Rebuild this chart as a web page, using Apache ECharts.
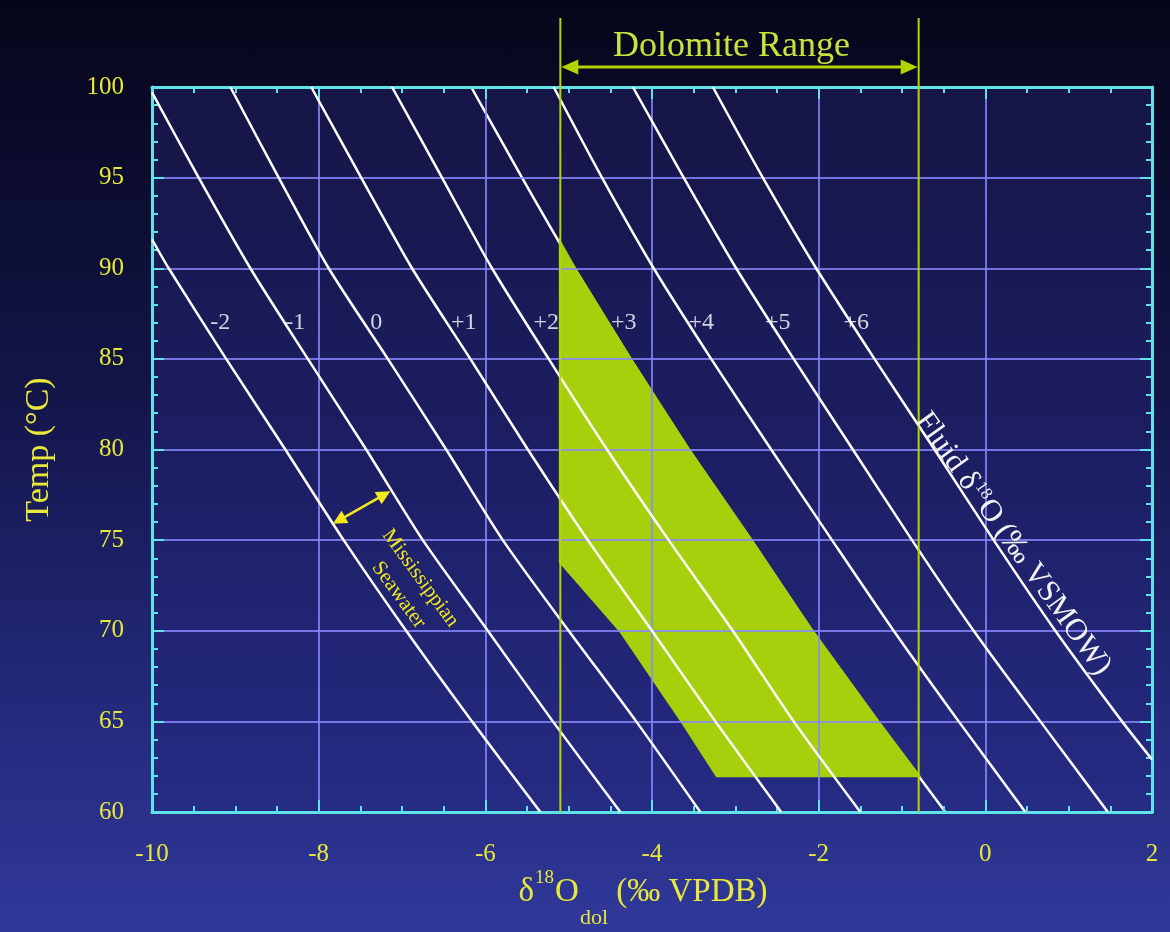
<!DOCTYPE html>
<html>
<head>
<meta charset="utf-8">
<script src="https://cdn.jsdelivr.net/npm/echarts@6/dist/echarts.min.js"></script>
<style>
html,body{margin:0;padding:0;}
body{background:linear-gradient(to bottom,#06061a 0%,#121446 40%,#23297a 75%,#30389a 100%);}
#c{width:1170px;height:932px;}
</style>
</head>
<body>
<div id="c"></div>
<script>
// ---------------- data ----------------
const xTicks = [-10, -8, -6, -4, -2, 0, 2];
const yTicks = [60, 65, 70, 75, 80, 85, 90, 95, 100];
const fluidLabels = ['-2', '-1', '0', '+1', '+2', '+3', '+4', '+5', '+6'];

// fluid δ18O isolines: [δ18O dol (‰ VPDB), Temp (°C)]
const lineM2 = [[-10.00, 91.6], [-9.80, 90], [-9.11, 85], [-8.40, 80], [-7.70, 75], [-6.95, 70], [-6.16, 65], [-5.34, 60]];
const lineM1 = [[-10.00, 99.7], [-9.44, 95], [-8.82, 90], [-8.13, 85], [-7.43, 80], [-6.75, 75], [-5.97, 70], [-5.19, 65], [-4.38, 60]];
const line0  = [[-9.06, 100], [-8.48, 95], [-7.88, 90], [-7.17, 85], [-6.47, 80], [-5.79, 75], [-5.00, 70], [-4.19, 65], [-3.42, 60]];
const lineP1 = [[-8.09, 100], [-7.49, 95], [-6.88, 90], [-6.18, 85], [-5.49, 80], [-4.77, 75], [-4.00, 70], [-3.24, 65], [-2.45, 60]];
const lineP2 = [[-7.12, 100], [-6.52, 95], [-5.92, 90], [-5.24, 85], [-4.54, 80], [-3.80, 75], [-3.03, 70], [-2.30, 65], [-1.50, 60]];
const lineP3 = [[-6.17, 100], [-5.56, 95], [-4.93, 90], [-4.26, 85], [-3.56, 80], [-2.81, 75], [-2.08, 70], [-1.29, 65], [-0.48, 60]];
const lineP4 = [[-5.18, 100], [-4.60, 95], [-3.98, 90], [-3.29, 85], [-2.57, 80], [-1.84, 75], [-1.10, 70], [-0.32, 65], [0.48, 60]];
const lineP5 = [[-4.23, 100], [-3.62, 95], [-2.99, 90], [-2.30, 85], [-1.59, 80], [-0.88, 75], [-0.14, 70], [0.66, 65], [1.47, 60]];
const lineP6 = [[-3.27, 100], [-2.67, 95], [-2.03, 90], [-1.33, 85], [-0.61, 80], [0.10, 75], [0.84, 70], [1.64, 65], [2.00, 62.9]];

// where each isoline's number sits
const labelAnchors = [[-9.18, 87.0], [-8.28, 87.0], [-7.31, 87.0], [-6.26, 87.0], [-5.27, 87.0], [-4.34, 87.0], [-3.41, 87.0], [-2.49, 87.0], [-1.55, 87.0]];

// green dolomite field polygon
const greenZone = [[-5.10, 91.4], [-4.93, 90], [-4.26, 85], [-3.56, 80], [-2.81, 75], [-2.08, 70], [-1.29, 65], [-0.80, 62],
                   [-3.22, 62], [-3.64, 65], [-4.38, 70], [-5.10, 73.8]];

// dolomite range (‰ VPDB)
const dolomiteRange = [-5.1, -0.8];

// Mississippian seawater arrow and text anchors
const seawaterArrow = [[-7.83, 75.9], [-7.14, 77.7]];
const missText = [-6.78, 72.9];
const seaText = [-7.04, 71.97];
const fluidText = [0.33, 74.8];

// ---------------- styles ----------------
const serif = '"Liberation Serif","DejaVu Serif",serif';
const cyan = '#5fe3e8';
const gridCol = 'rgba(135,135,255,0.82)';
const yellow = '#e8e83a';
const lineGreen = '#b4d300';
const fillGreen = '#a6d00c';

const fluidLines = [lineM2, lineM1, line0, lineP1, lineP2, lineP3, lineP4, lineP5, lineP6];

const chart = echarts.init(document.getElementById('c'), null, {renderer: 'canvas'});

function axisCommon(extra) {
  return Object.assign({
    type: 'value',
    z: 3,
    axisLine: {show: true, onZero: false, lineStyle: {color: cyan, width: 3}},
    axisTick: {show: true, inside: true, length: 12, lineStyle: {color: cyan, width: 2}},
    minorTick: {show: true, length: 6, lineStyle: {color: cyan, width: 2}},
    splitLine: {show: false},
    axisLabel: {show: false}
  }, extra);
}

const option = {
  backgroundColor: 'transparent',
  animation: false,
  grid: {
    left: 152, right: 18, top: 87, bottom: 120,
    containLabel: false, outerBoundsMode: 'none',
    show: true, borderWidth: 0,
    backgroundColor: new echarts.graphic.LinearGradient(0, 0, 0, 1, [
      {offset: 0, color: '#151546'}, {offset: 0.5, color: '#1c1e62'}, {offset: 1, color: '#262b84'}
    ])
  },
  xAxis: [
    axisCommon({
      min: xTicks[0], max: xTicks[xTicks.length - 1], interval: 2, position: 'bottom',
      minorTick: {show: true, splitNumber: 4, length: 6, lineStyle: {color: cyan, width: 2}},
      splitLine: {show: true, lineStyle: {color: gridCol, width: 2}},
      axisLabel: {show: true, color: yellow, fontFamily: serif, fontSize: 25, margin: 30},
      name: '{m|δ}{sup|18}{m|O}{sub|dol}{m| (‰ VPDB)}',
      nameLocation: 'middle', nameGap: 63, nameMoveOverlap: false,
      nameTextStyle: {
        color: yellow, fontFamily: serif, fontSize: 33, padding: [0, 18, 0, 0],
        rich: {
          m: {color: yellow, fontFamily: serif, fontSize: 33, lineHeight: 34},
          sup: {color: yellow, fontFamily: serif, fontSize: 19, lineHeight: 19, padding: [0, 1, 28, 1]},
          sub: {color: yellow, fontFamily: serif, fontSize: 22, lineHeight: 22, padding: [52, 0, 0, 1]}
        }
      }
    }),
    axisCommon({
      min: xTicks[0], max: xTicks[xTicks.length - 1], interval: 2, position: 'top',
      minorTick: {show: true, splitNumber: 4, length: 6, lineStyle: {color: cyan, width: 2}}
    })
  ],
  yAxis: [
    axisCommon({
      min: yTicks[0], max: yTicks[yTicks.length - 1], interval: 5, position: 'left',
      minorTick: {show: true, splitNumber: 5, length: 6, lineStyle: {color: cyan, width: 2}},
      splitLine: {show: true, lineStyle: {color: gridCol, width: 2}},
      axisLabel: {show: true, color: yellow, fontFamily: serif, fontSize: 25, margin: 28},
      name: 'Temp (°C)', nameLocation: 'middle', nameGap: 96, nameMoveOverlap: false,
      nameTextStyle: {color: yellow, fontFamily: serif, fontSize: 34}
    }),
    axisCommon({
      min: yTicks[0], max: yTicks[yTicks.length - 1], interval: 5, position: 'right',
      minorTick: {show: true, splitNumber: 5, length: 6, lineStyle: {color: cyan, width: 2}}
    })
  ],
  series: [
    {
      type: 'custom', name: 'Dolomite field', z: 2, silent: true,
      xAxisIndex: 0, yAxisIndex: 0,
      data: greenZone,
      renderItem: function (params, api) {
        if (params.dataIndex !== 0) return null;
        return {
          type: 'polygon',
          shape: {points: greenZone.map(function (p) { return api.coord(p); })},
          style: {fill: fillGreen, stroke: fillGreen, lineWidth: 3}
        };
      }
    }
  ].concat(fluidLines.map(function (d, i) {
    return {
      type: 'line', name: fluidLabels[i], data: d,
      xAxisIndex: 0, yAxisIndex: 0,
      symbol: 'none', showSymbol: false, smooth: 0.25, silent: true,
      z: fluidLabels[i] === '+3' ? 1 : 4,
      lineStyle: {color: '#ffffff', width: 2.5}
    };
  })).concat([{
    type: 'scatter', name: 'labels', data: labelAnchors, symbolSize: 0, silent: true, z: 5,
    xAxisIndex: 0, yAxisIndex: 0,
    label: {
      show: true, position: 'inside', color: '#ffffff', fontFamily: serif, fontSize: 24,
      formatter: function (p) { return fluidLabels[p.dataIndex]; }
    }
  }])
};
chart.setOption(option);

// ---------------- annotations ----------------
const P = function (p) { return chart.convertToPixel({gridIndex: 0}, p); };
const g = [];
const topPx = P([0, 100])[1];
const botPx = P([0, 60])[1];
const xL = P([dolomiteRange[0], 60])[0];
const xR = P([dolomiteRange[1], 60])[0];
const lineTop = topPx - 69;
const arrowY = topPx - 20;

function head(tip, ux, uy, len, half) {
  const bx = tip[0] - ux * len, by = tip[1] - uy * len;
  return [[tip[0], tip[1]], [bx - uy * half, by + ux * half], [bx + uy * half, by - ux * half]];
}

[xL, xR].forEach(function (x) {
  g.push({type: 'line', z: 100, silent: true, shape: {x1: x, y1: lineTop, x2: x, y2: botPx}, style: {stroke: lineGreen, lineWidth: 2}});
});
g.push({type: 'line', z: 100, silent: true, shape: {x1: xL + 12, y1: arrowY, x2: xR - 12, y2: arrowY}, style: {stroke: lineGreen, lineWidth: 3}});
g.push({type: 'polygon', z: 100, silent: true, shape: {points: head([xL + 1, arrowY], -1, 0, 17, 7.5)}, style: {fill: lineGreen}});
g.push({type: 'polygon', z: 100, silent: true, shape: {points: head([xR - 1, arrowY], 1, 0, 17, 7.5)}, style: {fill: lineGreen}});
g.push({type: 'text', z: 100, silent: true, x: (xL + xR) / 2 - 8, y: topPx - 40,
  style: {text: 'Dolomite Range', fill: '#c8e23c', fontFamily: serif, fontSize: 36, align: 'center', verticalAlign: 'middle'}});

// seawater double arrow
const a = P(seawaterArrow[0]), b = P(seawaterArrow[1]);
const dx = b[0] - a[0], dy = b[1] - a[1], dl = Math.sqrt(dx * dx + dy * dy);
const ux = dx / dl, uy = dy / dl;
const sYel = '#f2e81e';
g.push({type: 'line', z: 100, silent: true, shape: {x1: a[0] + ux * 8, y1: a[1] + uy * 8, x2: b[0] - ux * 8, y2: b[1] - uy * 8}, style: {stroke: sYel, lineWidth: 2.5}});
g.push({type: 'polygon', z: 100, silent: true, shape: {points: head(b, ux, uy, 14, 7)}, style: {fill: sYel}});
g.push({type: 'polygon', z: 100, silent: true, shape: {points: head(a, -ux, -uy, 14, 7)}, style: {fill: sYel}});

const m = P(missText), s = P(seaText), f = P(fluidText);
g.push({type: 'text', z: 100, silent: true, x: m[0], y: m[1], rotation: -0.94,
  style: {text: 'Mississippian', fill: sYel, fontFamily: serif, fontSize: 21, align: 'center', verticalAlign: 'middle'}});
g.push({type: 'text', z: 100, silent: true, x: s[0], y: s[1], rotation: -0.94,
  style: {text: 'Seawater', fill: sYel, fontFamily: serif, fontSize: 21, align: 'center', verticalAlign: 'middle'}});
g.push({type: 'text', z: 100, silent: true, x: f[0], y: f[1], rotation: -0.95,
  style: {
    text: '{a|Fluid δ}{s|18}{a|O (‰ VSMOW)}', fill: '#f2f2f2', fontFamily: serif, fontSize: 31,
    align: 'center', verticalAlign: 'middle',
    rich: {
      a: {fill: '#f2f2f2', fontFamily: serif, fontSize: 31, lineHeight: 32},
      s: {fill: '#f2f2f2', fontFamily: serif, fontSize: 17, lineHeight: 17, padding: [0, 1, 14, 1]}
    }
  }});

chart.setOption({graphic: {elements: g}});
</script>
</body>
</html>
